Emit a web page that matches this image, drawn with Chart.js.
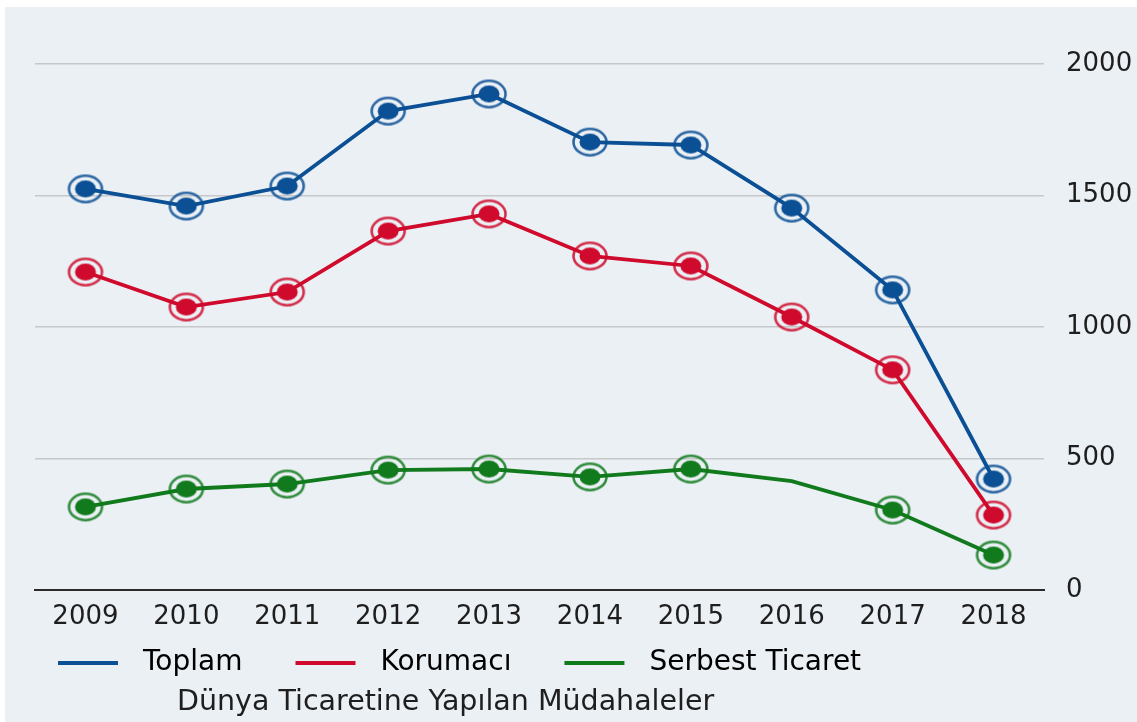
<!DOCTYPE html>
<html>
<head>
<meta charset="utf-8">
<script src="https://cdn.jsdelivr.net/npm/chart.js@4.4.1/dist/chart.umd.min.js"></script>
<style>
  html, body { margin: 0; padding: 0; background: #fff; }
  #wrap { position: absolute; left: 5px; top: 7px; width: 1132px; height: 715px; background: #ebf0f5; }
</style>
</head>
<body>
<div id="wrap"><canvas id="chart"></canvas></div>
<script>
// data
const years    = ['2009', '2010', '2011', '2012', '2013', '2014', '2015', '2016', '2017', '2018'];
const toplam   = [1525, 1460, 1536, 1821, 1886, 1703, 1692, 1452, 1141, 422];
const korumaci = [1209, 1076, 1133, 1365, 1430, 1270, 1232, 1038, 837, 285];
const serbest  = [316, 384, 403, 456, 460, 430, 460, 414, 304, 133];
// 2016 has no marker on the green line
const serbestMarks = [1, 1, 1, 1, 1, 1, 1, 0, 1, 1];
const yTicks = [0, 500, 1000, 1500, 2000];
const caption = 'Dünya Ticaretine Yapılan Müdahaleler';

const c_blue = '#0b4f94';
const c_red = '#cf0a2c';
const c_green = '#117a1c';
const c_text = '#1e1e1e';

// double circle marker: dot + ring (slightly wide, like the original)
function marker(col) {
  const cv = document.createElement('canvas');
  cv.width = 38; cv.height = 31;
  const g = cv.getContext('2d');
  g.strokeStyle = col;
  g.globalAlpha = 0.85;
  g.lineWidth = 2.6;
  g.beginPath(); g.ellipse(19, 15.5, 16.5, 13.2, 0, 0, Math.PI * 2); g.stroke();
  g.globalAlpha = 1;
  g.fillStyle = col;
  g.beginPath(); g.ellipse(19, 15.5, 10.5, 8.5, 0, 0, Math.PI * 2); g.fill();
  return cv;
}

// legend swatch: blank lead-in, then a 60px line, then room before the text
function swatch(col) {
  const cv = document.createElement('canvas');
  cv.width = 107; cv.height = 6;
  const g = cv.getContext('2d');
  g.fillStyle = col;
  g.fillRect(36, 1, 60, 4);
  return cv;
}

function line(label, vals, col, marks) {
  return {
    label: label,
    data: vals,
    borderColor: col,
    backgroundColor: col,
    borderWidth: 3.8,
    tension: 0,
    pointStyle: marker(col),
    pointRadius: marks ? marks.map(m => m * 12) : 12,
    pointHoverRadius: 12
  };
}

// caption under the legend
const captionPlugin = {
  id: 'caption',
  afterDraw(chart) {
    const ctx = chart.ctx;
    ctx.save();
    ctx.font = '28.5px "DejaVu Sans"';
    ctx.fillStyle = c_text;
    ctx.textBaseline = 'middle';
    ctx.fillText(caption, chart.chartArea.left + 142, chart.height - 19);
    ctx.restore();
  }
};

const tickFont = { family: 'DejaVu Sans', size: 26 };

const config = {
  type: 'line',
  data: {
    labels: years,
    datasets: [
      line('Toplam', toplam, c_blue),
      line('Korumacı', korumaci, c_red),
      line('Serbest Ticaret', serbest, c_green, serbestMarks)
    ]
  },
  options: {
    responsive: true,
    maintainAspectRatio: false,
    animation: false,
    layout: { padding: { left: 0, top: 57, right: 0, bottom: 35 } },
    plugins: {
      tooltip: { enabled: false },
      legend: {
        position: 'bottom',
        align: 'start',
        labels: {
          color: c_text,
          font: { family: 'DejaVu Sans', size: 28 },
          usePointStyle: true,
          pointStyleWidth: 107,
          padding: 17,
          generateLabels: (chart) => chart.data.datasets.map((ds, i) => ({
            text: ds.label,
            pointStyle: swatch(ds.borderColor),
            fillStyle: ds.borderColor,
            strokeStyle: ds.borderColor,
            lineWidth: 0,
            datasetIndex: i,
            hidden: false
          }))
        }
      }
    },
    scales: {
      x: {
        offset: true,
        grid: { display: false, drawTicks: false },
        border: { display: true, color: '#2a2a2a', width: 2 },
        ticks: { color: c_text, padding: 12, font: tickFont },
        afterFit(s) { s.height = 42; }
      },
      y: {
        position: 'right',
        min: yTicks[0],
        max: yTicks[yTicks.length - 1],
        afterBuildTicks(s) { s.ticks = yTicks.map(v => ({ value: v })); },
        ticks: { color: c_text, padding: 22, font: tickFont, callback: v => String(v) },
        grid: { color: '#c6c8ca', lineWidth: 1.5, drawTicks: false },
        border: { display: false },
        afterFit(s) { s.width = 93; }
      },
      // empty left axis, only keeps the plot off the left edge
      yl: {
        position: 'left',
        grid: { display: false, drawTicks: false },
        border: { display: false },
        ticks: { display: false },
        afterFit(s) { s.width = 30; }
      }
    }
  },
  plugins: [captionPlugin]
};

var chart = new Chart(document.getElementById('chart'), config);
</script>
</body>
</html>
